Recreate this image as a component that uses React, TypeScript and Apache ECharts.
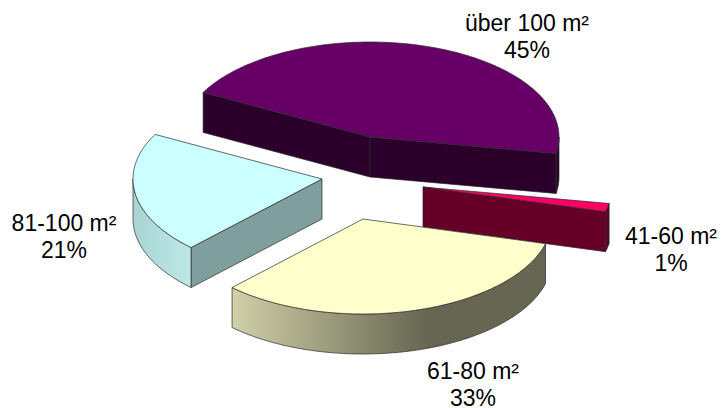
import React, { useEffect, useRef } from "react";
import * as echarts from "echarts";

const categories = ["über 100 m²", "41-60 m²", "61-80 m²", "81-100 m²"];
const shares = [45, 1.4, 33, 20.6];
const topColors = ["#660066", "#ff0066", "#ffffcc", "#ccffff"];
const wallColors = ["#2b002b", "#660026", "#666652", "#7f9f9f"];

// Layout of the exploded 3D pie (not data)
const FIRST_ANGLE = 298;
const RX = 189;
const RY = 95;
const DEPTH = 40;
const centers = [
  [370, 137],
  [423, 187],
  [363, 219],
  [322, 179],
];
const labelAnchors = [
  [527, 36],
  [671, 249],
  [473, 384],
  [64, 236],
];
const rimStops = [
  [[0, "#2b002b"], [1, "#2b002b"]],
  [[0, "#660026"], [1, "#660026"]],
  [[0, "#d0d0a8"], [0.62, "#666652"], [1, "#666652"]],
  [[0, "#a8d4d4"], [1, "#bce8e8"]],
];

const toRad = (d: number) => (d * Math.PI) / 180;
const pt = (c: number[], a: number, dy = 0) => [
  c[0] + RX * Math.sin(toRad(a)),
  c[1] - RY * Math.cos(toRad(a)) + dy,
];
const arcPts = (c: number[], a: number, b: number, dy = 0) => {
  const n = Math.max(2, Math.ceil(Math.abs(b - a)));
  const out: number[][] = [];
  for (let i = 0; i <= n; i++) out.push(pt(c, a + ((b - a) * i) / n, dy));
  return out;
};

const total = shares.reduce((s, v) => s + v, 0);
const STROKE = "#2a2a2a";

function renderSlice(params: any, api: any) {
  const i = params.dataIndex;
  let before = 0;
  for (let k = 0; k < i; k++) before += shares[k];
  const start = FIRST_ANGLE + (before / total) * 360;
  const end = start + (api.value(1) / total) * 360;
  const c = centers[i];
  const children: any[] = [];
  const wall = (a: number) => {
    const p = pt(c, a);
    children.push({
      type: "polygon",
      shape: { points: [c, p, [p[0], p[1] + DEPTH], [c[0], c[1] + DEPTH]] },
      style: { fill: wallColors[i], stroke: STROKE, lineWidth: 0.7 },
    });
  };
  if (Math.sin(toRad(start)) < 0) wall(start);
  if (Math.sin(toRad(end)) > 0) wall(end);
  // outer rim: the part of the arc that faces the viewer
  for (const off of [0, 360]) {
    const a = Math.max(start, 90 + off);
    const b = Math.min(end, 270 + off);
    if (b > a) {
      const upper = arcPts(c, a, b);
      const lower = arcPts(c, b, a, DEPTH);
      children.push({
        type: "polygon",
        shape: { points: [...upper, ...lower] },
        style: {
          fill: {
            type: "linear", x: 0, y: 0, x2: 1, y2: 0,
            colorStops: rimStops[i].map((s) => ({ offset: s[0], color: s[1] })),
          },
          stroke: STROKE,
          lineWidth: 0.7,
        },
      });
    }
  }
  children.push({
    type: "polygon",
    shape: { points: [c, ...arcPts(c, start, end)] },
    style: { fill: topColors[i], stroke: STROKE, lineWidth: 0.7 },
  });
  const la = labelAnchors[i];
  children.push({
    type: "text",
    x: la[0],
    y: la[1],
    style: {
      text: `${categories[i]}\n${Math.round(api.value(1))}%`,
      fill: "#000",
      font: '23px "Liberation Sans", Arial, sans-serif',
      align: "center",
      verticalAlign: "middle",
      lineHeight: 27,
    },
  });
  return { type: "group", children };
}

export default function App() {
  const ref = useRef<HTMLDivElement>(null);
  useEffect(() => {
    const chart = echarts.init(ref.current!, undefined, { renderer: "svg" });
    chart.setOption({
      animation: false,
      backgroundColor: "#fff",
      series: [
        {
          type: "custom",
          coordinateSystem: "none",
          silent: true,
          data: shares.map((v, i) => ({ name: categories[i], value: [i, v] })),
          renderItem: renderSlice,
        },
      ],
    });
    return () => chart.dispose();
  }, []);
  return (
    <div
      ref={ref}
      style={{ width: 722, height: 408, position: "absolute", left: 0, top: 0 }}
    />
  );
}
